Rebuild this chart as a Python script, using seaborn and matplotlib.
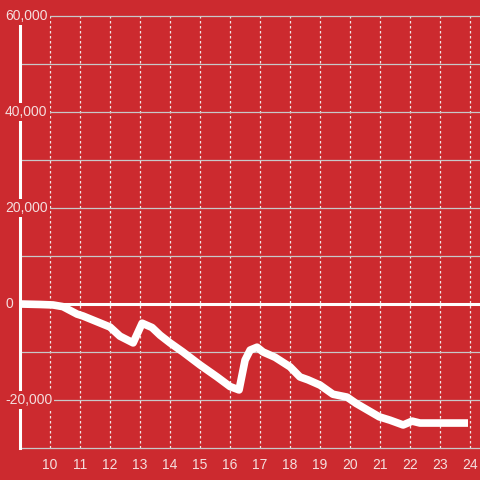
import seaborn as sns
import matplotlib.pyplot as plt
import matplotlib.transforms as mtransforms
import pandas as pd

# valores
horas = [9.0, 9.67, 10.1, 10.43, 10.9, 11.1, 11.57, 12.0, 12.33, 12.77, 13.07, 13.4,
         13.67, 14.0, 14.43, 15.0, 15.57, 16.0, 16.3, 16.5, 16.67, 16.9, 17.1, 17.5,
         18.0, 18.33, 18.6, 19.0, 19.43, 19.9, 20.2, 20.97, 21.33, 21.77, 22.07, 22.33, 23.93]
valores = [0, -100, -200, -550, -2100, -2500, -3700, -4800, -6700, -8100, -4000, -4900,
           -6500, -8100, -10000, -12700, -15200, -17200, -17900, -11700, -9600, -9000, -10000, -11100,
           -13100, -15200, -15800, -16900, -18800, -19400, -20700, -23500, -24200, -25200, -24400, -24800, -24800]

ticks_x = list(range(10, 25))
ticks_y = list(range(-30000, 60001, 10000))
etiquetas_y = [60000, 40000, 20000, 0, -20000]

fondo = "#cc2a2f"
texto = "#f4dede"

df = pd.DataFrame({"hora": horas, "valor": valores})

plt.rcParams["font.family"] = ["Liberation Sans", "DejaVu Sans"]

fig = plt.figure(figsize = (4.8, 4.8), dpi = 100, facecolor = fondo)
ax = fig.add_axes([20 / 480, 32 / 480, 460 / 480, 432 / 480])
ax.set_facecolor(fondo)

# rejilla
ax.set_xticks(ticks_x)
ax.set_yticks(ticks_y)
ax.grid(axis = 'x', color = "#f0e6e6", linewidth = 0.9, linestyle = (0, (2, 2)))
ax.grid(axis = 'y', color = "#c8c8c8", linewidth = 0.9, linestyle = '-')
for linea in ax.get_ygridlines():
    linea.set_clip_on(False)

sns.lineplot(data = df, x = 'hora', y = 'valor', ax = ax, color = 'white',
             linewidth = 5.5, solid_joinstyle = 'round', solid_capstyle = 'butt', zorder = 3)

ax.axhline(0, color = 'white', linewidth = 2.2, zorder = 2.8)

ax.set_xlim(9, 24.33)
ax.set_ylim(-30000, 60000)

for s in ['top', 'right', 'bottom']:
    ax.spines[s].set_visible(False)
ax.spines['left'].set_color('white')
ax.spines['left'].set_linewidth(2.2)
ax.spines['left'].set_zorder(2.9)

ax.tick_params(axis = 'both', length = 0)
ax.tick_params(axis = 'x', colors = texto, labelsize = 10, pad = 7)
ax.set_yticklabels([])

trans = mtransforms.blended_transform_factory(fig.transFigure, ax.transData)
for v in etiquetas_y:
    ax.text(5 / 480, v, f"{v:,}", ha = 'left', va = 'center', color = texto,
            fontsize = 10, zorder = 5, transform = trans,
            bbox = dict(facecolor = fondo, edgecolor = 'none', pad = 1.5))

ax.set_xlabel("")
ax.set_ylabel("")

plt.savefig("out.png", dpi = 100, facecolor = fondo)
